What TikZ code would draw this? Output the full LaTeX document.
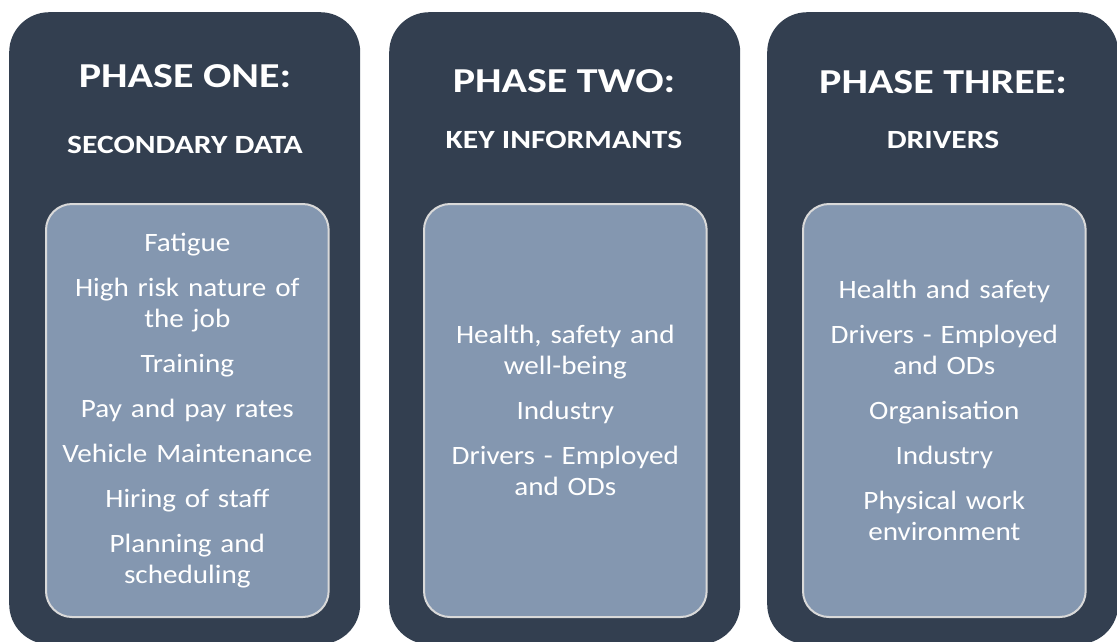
\documentclass[tikz,border=0pt]{standalone}
\usepackage{fontspec}
\setmainfont[FakeStretch=1.1]{Carlito}
\newfontfamily\headfont[FakeStretch=1.2]{Carlito}
\usetikzlibrary{positioning}
\definecolor{panelbg}{HTML}{333F50}
\definecolor{boxbg}{HTML}{8497B0}
\definecolor{boxline}{HTML}{D9D9D9}

\begin{document}
\begin{tikzpicture}[x=1pt, y=-1pt,
    panel/.style={fill=panelbg, rounded corners=40pt, minimum width=351pt, minimum height=632pt, inner sep=0pt, anchor=north west},
    topic/.style={fill=boxbg, draw=boxline, line width=2pt, rounded corners=26pt, minimum width=282pt, minimum height=413pt,
      text width=276pt, align=center, text=white, anchor=north west, font=\fontsize{26.5}{31}\selectfont},
    title/.style={text=white, anchor=base, inner sep=0pt, font=\headfont\bfseries\fontsize{35}{40}\selectfont},
    subtitle/.style={text=white, anchor=base, inner sep=0pt, font=\headfont\bfseries\fontsize{26.3}{29}\selectfont}]
    \useasboundingbox (0,0) rectangle (1117,641);
    % the three phases
    \node[panel] (p1) at (9,12) {};   \node[panel] (p2) at (389,12) {};   \node[panel] (p3) at (767,12) {};
    \node[title] (t1) at (185,87) {PHASE ONE:};      \node[subtitle] (s1) at (185,153) {SECONDARY DATA};
    \node[title] (t2) at (564,92) {PHASE TWO:};      \node[subtitle] (s2) at (564,148) {KEY INFORMANTS};
    \node[title] (t3) at (943,93) {PHASE THREE:};    \node[subtitle] (s3) at (943,148) {DRIVERS};
    % what each phase looked at
    \node[topic] (b1) at (45,203) {Fatigue\\[14pt] High risk nature of\\ the job\\[14pt] Training\\[14pt] Pay and pay rates\\[14pt]
      Vehicle Maintenance\\[14pt] Hiring of staff\\[14pt] Planning and\\ scheduling};
    \node[topic] (b2) at (423,203) {Health, safety and\\ well-being\\[14pt] Industry\\[14pt] Drivers - Employed\\ and ODs};
    \node[topic] (b3) at (802,203) {Health and safety\\[14pt] Drivers - Employed\\ and ODs\\[14pt] Organisation\\[14pt]
      Industry\\[14pt] Physical work\\ environment};
\end{tikzpicture}
\end{document}
